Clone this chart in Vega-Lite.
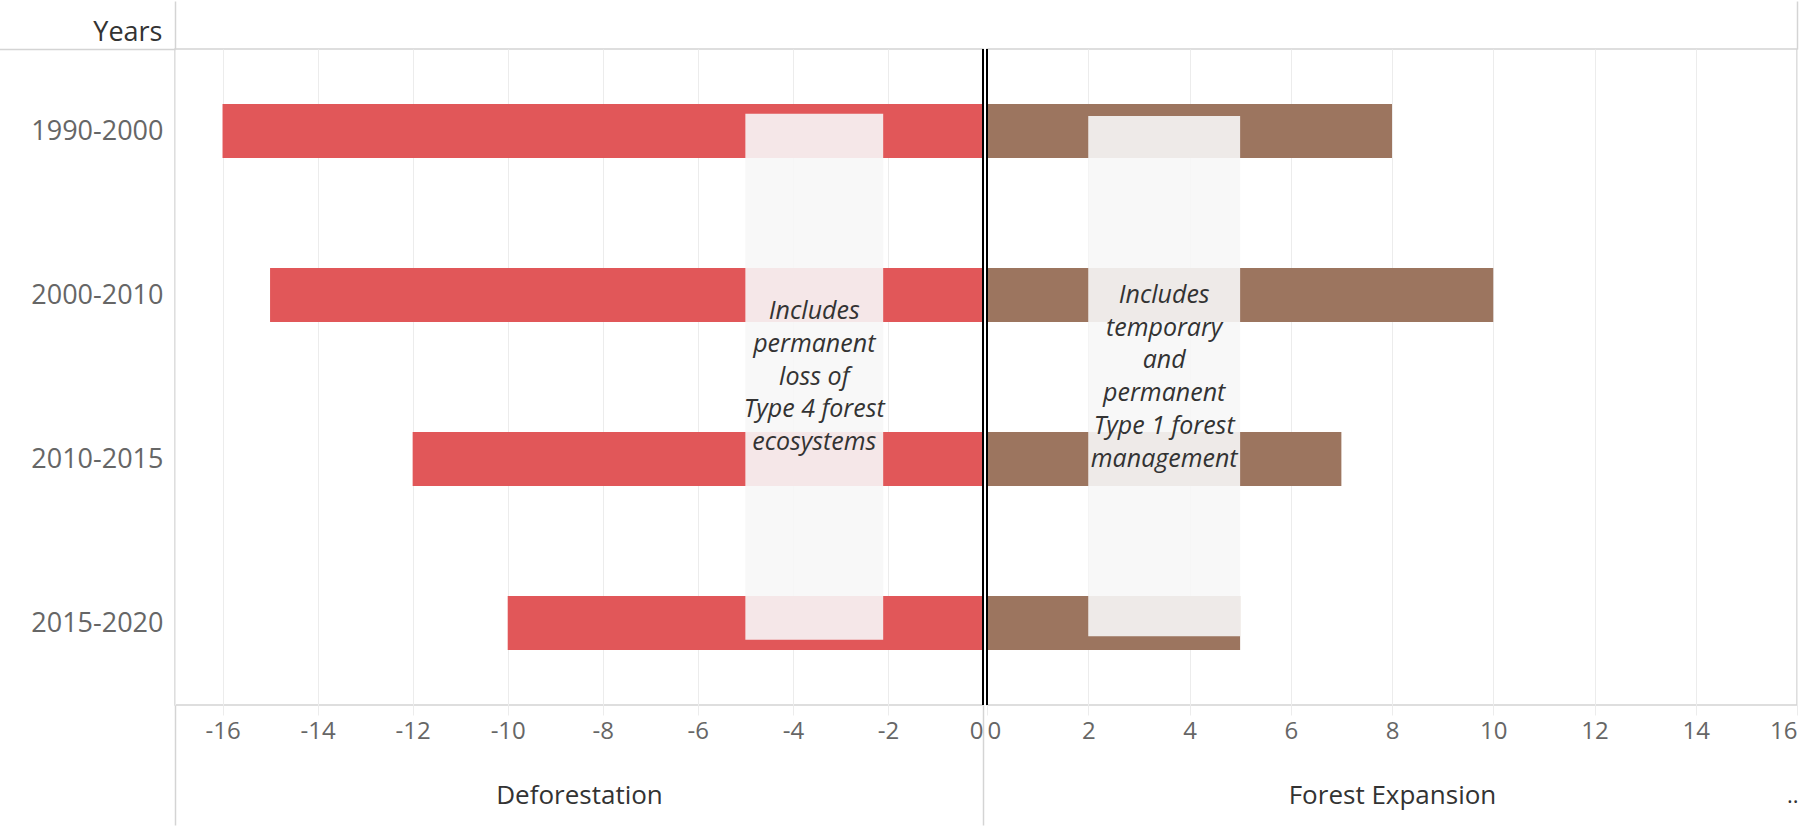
{
  "$schema": "https://vega.github.io/schema/vega-lite/v6.json",
  "autosize": {"type": "pad"},
  "padding": {"left": -3, "top": -1, "right": 0, "bottom": 8},
  "background": "white",
  "spacing": 0,
  "title": {"text": "..", "orient": "bottom", "anchor": "end", "fontSize": 22, "fontWeight": "normal", "color": "#333333", "offset": -41},
  "config": {
    "font": "Open Sans",
    "view": {"stroke": "#d4d4d4", "strokeWidth": 1.5},
    "axisX": {
      "labelFontSize": 24,
      "labelColor": "#666666",
      "labelFlush": true,
      "labelPadding": 4,
      "tickSize": 10,
      "domain": false,
      "gridColor": "#ececec",
      "gridWidth": 1,
      "titleFontSize": 26,
      "titleColor": "#333333",
      "titleFontWeight": "normal",
      "titleBaseline": "top",
      "titleY": 77
    },
    "axisY": {
      "labelFontSize": 27,
      "labelColor": "#666666",
      "labelPadding": 12,
      "ticks": false,
      "domain": false,
      "grid": false,
      "titleFontSize": 27,
      "titleColor": "#333333",
      "titleFontWeight": "normal"
    }
  },
  "datasets": {
    "bars": [
      {"period": "1990-2000", "deforestation": -16, "expansion": 8},
      {"period": "2000-2010", "deforestation": -15, "expansion": 10},
      {"period": "2010-2015", "deforestation": -12, "expansion": 7},
      {"period": "2015-2020", "deforestation": -10, "expansion": 5}
    ],
    "notes": [
      {"side": "left", "from": -5, "to": -2.1, "mid": -3.55, "label": "Includes\npermanent\nloss of\nType 4 forest\necosystems"},
      {"side": "right", "from": 2, "to": 5, "mid": 3.5, "label": "Includes\ntemporary\nand\npermanent\nType 1 forest\nmanagement"}
    ]
  },
  "resolve": {"scale": {"x": "independent", "y": "shared"}},
  "hconcat": [
    {
      "width": 808,
      "height": 656,
      "resolve": {"axis": {"x": "independent"}},
      "layer": [
        {
          "data": {"name": "bars"},
          "mark": {"type": "bar", "color": "#E15759"},
          "encoding": {
            "x": {
              "field": "deforestation",
              "type": "quantitative",
              "scale": {"domain": [-17, 0], "nice": false},
              "axis": {
                "orient": "bottom",
                "title": "Deforestation",
                "values": [-17, -16, -14, -12, -10, -8, -6, -4, -2, 0],
                "labelExpr": "datum.value === -17 ? '' : '' + datum.value",
                "labelPadding": {"condition": {"test": "datum.value === 0", "value": -106}, "value": 4},
                "tickSize": {"condition": {"test": "datum.value === -17 || datum.value === 0", "value": 120}, "value": 10},
                "tickColor": {"condition": {"test": "datum.value === -17 || datum.value === 0", "value": "#d4d4d4"}, "value": "#ececec"},
                "tickWidth": {"condition": {"test": "datum.value === -17 || datum.value === 0", "value": 1.5}, "value": 1}
              }
            },
            "x2": {"datum": 0},
            "y": {
              "field": "period",
              "type": "nominal",
              "sort": null,
              "scale": {"paddingInner": 0.671, "paddingOuter": 0.3355},
              "axis": {
                "title": "Years", "titleAngle": 0, "titleAlign": "right", "titleBaseline": "middle", "titleX": -13, "titleY": -17,
                "ticks": true, "tickSize": 176, "tickColor": "#d4d4d4", "tickWidth": 1.5,
                "tickOpacity": {"condition": {"test": "datum.value === '1990-2000'", "value": 1}, "value": 0},
                "tickOffset": -82, "labelOffset": 82, "labelPadding": -164
              }
            }
          }
        },
        {
          "data": {"name": "notes"},
          "transform": [{"filter": "datum.side === 'left'"}],
          "mark": {"type": "rect", "fill": "#f7f7f7", "opacity": 0.9},
          "encoding": {
            "x": {"field": "from", "type": "quantitative", "axis": null},
            "x2": {"field": "to"},
            "y": {"datum": "1990-2000", "bandPosition": 0.18},
            "y2": {"datum": "2015-2020", "bandPosition": 0.81}
          }
        },
        {
          "data": {"name": "notes"},
          "transform": [{"filter": "datum.side === 'left'"}],
          "mark": {"type": "text", "font": "Open Sans", "fontStyle": "italic", "fontSize": 25, "color": "#333333", "align": "center", "baseline": "middle", "lineBreak": "\n", "lineHeight": 32.7},
          "encoding": {
            "x": {"field": "mid", "type": "quantitative", "axis": null},
            "y": {"datum": "2000-2010", "bandPosition": 0.8},
            "text": {"field": "label", "type": "nominal"}
          }
        },
        {
          "data": {"values": [{}]},
          "mark": {"type": "rule", "color": "#000000", "strokeWidth": 2},
          "encoding": {
            "x": {
              "datum": 0,
              "type": "quantitative",
              "axis": {"orient": "top", "values": [-17], "labels": false, "grid": false, "domain": false, "title": null, "tickSize": 48, "tickColor": "#d4d4d4", "tickWidth": 1.5}
            }
          }
        }
      ]
    },
    {
      "width": 810,
      "height": 656,
      "resolve": {"axis": {"x": "independent"}},
      "layer": [
        {
          "data": {"name": "bars"},
          "mark": {"type": "bar", "color": "#9C755F"},
          "encoding": {
            "x": {
              "field": "expansion",
              "type": "quantitative",
              "scale": {"domain": [0, 16], "nice": false},
              "axis": {
                "orient": "bottom",
                "title": "Forest Expansion",
                "values": [0, 2, 4, 6, 8, 10, 12, 14, 16],
                "labelExpr": "'' + datum.value",
                "tickColor": "#ececec"
              }
            },
            "x2": {"datum": 0},
            "y": {"field": "period", "type": "nominal", "sort": null, "axis": null}
          }
        },
        {
          "data": {"name": "notes"},
          "transform": [{"filter": "datum.side === 'right'"}],
          "mark": {"type": "rect", "fill": "#f7f7f7", "opacity": 0.9},
          "encoding": {
            "x": {"field": "from", "type": "quantitative", "axis": null},
            "x2": {"field": "to"},
            "y": {"datum": "1990-2000", "bandPosition": 0.22},
            "y2": {"datum": "2015-2020", "bandPosition": 0.745}
          }
        },
        {
          "data": {"name": "notes"},
          "transform": [{"filter": "datum.side === 'right'"}],
          "mark": {"type": "text", "font": "Open Sans", "fontStyle": "italic", "fontSize": 25, "color": "#333333", "align": "center", "baseline": "middle", "lineBreak": "\n", "lineHeight": 32.7},
          "encoding": {
            "x": {"field": "mid", "type": "quantitative", "axis": null},
            "y": {"datum": "2000-2010", "bandPosition": 0.5},
            "text": {"field": "label", "type": "nominal"}
          }
        },
        {
          "data": {"values": [{}]},
          "mark": {"type": "rule", "color": "#000000", "strokeWidth": 2},
          "encoding": {
            "x": {
              "datum": 0,
              "type": "quantitative",
              "axis": {"orient": "top", "values": [16], "labels": false, "grid": false, "domain": false, "title": null, "tickSize": 48, "tickColor": "#d4d4d4", "tickWidth": 1.5}
            }
          }
        }
      ]
    }
  ]
}
